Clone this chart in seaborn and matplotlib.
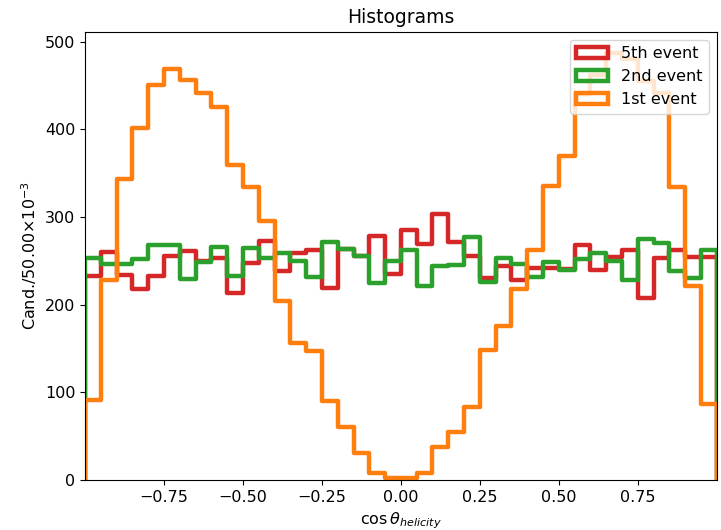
import numpy as np
import pandas as pd
import matplotlib
matplotlib.use("Agg")
import matplotlib.pyplot as plt
from matplotlib.patches import Patch
import seaborn as sns

# ---- data (counts per bin, 40 bins of width 0.05 over [-1, 1]) ----
bin_lo, bin_hi, n_bins = -1.0, 1.0, 40

counts_5th = [233, 260, 234, 218, 233, 256, 261, 250, 253, 214,
              248, 273, 238, 259, 263, 219, 264, 256, 278, 235,
              285, 269, 304, 272, 256, 231, 244, 228, 242, 242,
              241, 268, 240, 255, 262, 208, 253, 262, 254, 255]
counts_2nd = [253, 247, 247, 252, 268, 268, 230, 249, 266, 233,
              265, 253, 259, 250, 232, 272, 264, 256, 225, 250,
              262, 222, 244, 245, 277, 226, 253, 247, 232, 249,
              240, 252, 259, 250, 228, 275, 270, 239, 231, 262]
counts_1st = [92, 228, 343, 402, 451, 469, 456, 441, 426, 360,
              334, 296, 204, 156, 147, 90, 61, 31, 8, 3,
              2, 8, 38, 55, 83, 148, 176, 218, 262, 335,
              370, 440, 462, 487, 480, 455, 442, 334, 221, 87]

series_names = ["5th event", "2nd event", "1st event"]
series_colors = ["#d62728", "#2ca02c", "#ff7f0e"]
series_counts = [counts_5th, counts_2nd, counts_1st]

xticks = [-0.75, -0.50, -0.25, 0.00, 0.25, 0.50, 0.75]
yticks = [0, 100, 200, 300, 400, 500]

width = (bin_hi - bin_lo) / n_bins
# one empty bin on each side so the step outline closes down to zero at the edges
edges = np.linspace(bin_lo - width, bin_hi + width, n_bins + 3)
centers = 0.5 * (edges[:-1] + edges[1:])

fs = 11.5
fig = plt.figure(figsize=(7.21, 5.30), dpi=100)
ax = fig.add_axes([0.118, 0.094, 0.876, 0.846])

lw = 3.2
for name, color, cnt in zip(series_names, series_colors, series_counts):
    df = pd.DataFrame({"x": centers, "w": [0] + list(cnt) + [0]})
    sns.histplot(data=df, x="x", weights="w", bins=n_bins + 2,
                 binrange=(bin_lo - width, bin_hi + width), element="step",
                 fill=False, color=color, linewidth=lw, ax=ax, legend=False)

ax.set_xlim(bin_lo, bin_hi)
ax.set_ylim(0, max(max(c) for c in series_counts) * 1.05)
ax.set_xticks(xticks)
ax.set_xticklabels([f"{t:.2f}".replace("-", "\u2212") for t in xticks])
ax.set_yticks(yticks)
ax.tick_params(labelsize=fs)

ax.set_title("Histograms", fontsize=13.5)
ax.set_xlabel(r"$\cos\theta_{helicity}$", fontsize=fs)
ax.set_ylabel(r"Cand./50.00$\times$10$^{-3}$", fontsize=fs)

handles = [Patch(facecolor="none", edgecolor=c, linewidth=lw, label=n)
           for n, c in zip(series_names, series_colors)]
ax.legend(handles=handles, loc="upper right", fontsize=fs,
          framealpha=0.8)

fig.savefig("out.png", dpi=100)
